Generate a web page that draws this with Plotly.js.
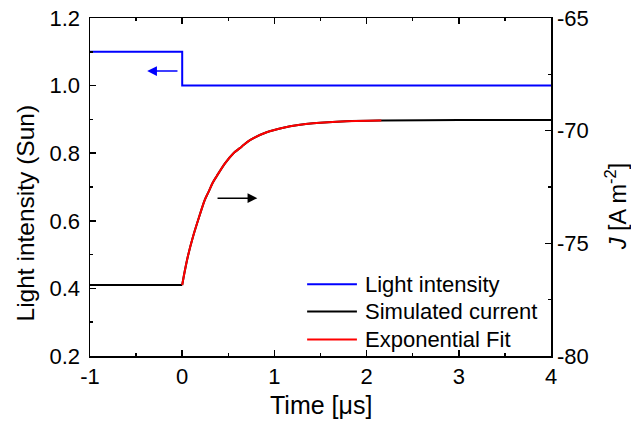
<!DOCTYPE html>
<html><head><meta charset="utf-8">
<script src="https://cdn.plot.ly/plotly-3.0.1.min.js"></script>
<style>html,body{margin:0;padding:0;background:#fff}</style>
</head><body>
<div id="chart" style="width:631px;height:422px"></div>
<script>
// Light intensity (left axis, Sun)
const lightTime = [-1, 0, 0, 4];
const lightValue = [1.1, 1.1, 1.0, 1.0];

// Exponential fit (right axis, A m^-2)
const fitTime = [0, 0.027, 0.063, 0.117, 0.171, 0.244, 0.283, 0.334, 0.374, 0.464, 0.554, 0.645, 0.735, 0.916, 1.097, 1.259, 1.42, 1.78, 2.16];
const fitJ = [-76.85, -76.25, -75.55, -74.71, -73.99, -73.08, -72.74, -72.29, -72.02, -71.45, -71.01, -70.71, -70.42, -70.07, -69.87, -69.75, -69.67, -69.58, -69.55];

// Simulated current (right axis): flat part before the step, then the transient
const simTime = [-1, 0, null, 0, 0.027, 0.063, 0.117, 0.171, 0.244, 0.283, 0.334, 0.374, 0.464, 0.554, 0.645, 0.735, 0.916, 1.097, 1.259, 1.42, 1.78, 2.16, 3.0, 4.0];
const simJ = [-76.85, -76.85, null, -76.85, -76.25, -75.55, -74.71, -73.99, -73.08, -72.74, -72.29, -72.02, -71.45, -71.01, -70.71, -70.42, -70.07, -69.87, -69.75, -69.67, -69.58, -69.55, -69.53, -69.53];

// Axis tick labels
const xTickVals = [-1, 0, 1, 2, 3, 4];
const xTickText = ["-1", "0", "1", "2", "3", "4"];
const yTickVals = [0.2, 0.4, 0.6, 0.8, 1.0, 1.2];
const yTickText = ["0.2", "0.4", "0.6", "0.8", "1.0", "1.2"];
const y2TickVals = [-80, -75, -70, -65];
const y2TickText = ["-80", "-75", "-70", "-65"];

// Legend entries
const legendNames = ["Light intensity", "Simulated current", "Exponential Fit"];
const legendColors = ["#0000ff", "#000000", "#ff0000"];

// Arrows indicating axes: [tailX, headX, y]
const leftArrow = [-0.035, -0.38, 1.043];
const rightArrow = [0.367, 0.815, 0.667];

const FONT = "Liberation Sans, Arial, sans-serif";

const traces = [
  {x: lightTime, y: lightValue, name: legendNames[0], mode: "lines",
   line: {color: legendColors[0], width: 2}, yaxis: "y"},
  {x: simTime, y: simJ, name: legendNames[1], mode: "lines", connectgaps: false,
   line: {color: legendColors[1], width: 2, shape: "spline", smoothing: 0.8}, yaxis: "y2"},
  {x: fitTime, y: fitJ, name: legendNames[2], mode: "lines",
   line: {color: legendColors[2], width: 2, shape: "spline", smoothing: 0.8}, yaxis: "y2"}
];

const axisCommon = {
  showgrid: false, zeroline: false, showline: true, linecolor: "#000", linewidth: 1.5,
  ticks: "inside", ticklen: 6, tickwidth: 1.5, tickcolor: "#000", ticklabelstandoff: 4,
  tickfont: {family: FONT, size: 22, color: "#000"}
};

// manual legend placement (paper coordinates)
const legLineX0 = 0.471, legLineX1 = 0.579, legTextX = 0.592;
const legRowY = [0.212, 0.132, 0.049];

const annotations = [
  {x: leftArrow[1], y: leftArrow[2], ax: leftArrow[0], ay: leftArrow[2],
   xref: "x", yref: "y", axref: "x", ayref: "y", text: "", showarrow: true,
   arrowhead: 2, arrowsize: 1.3, arrowwidth: 1.5, arrowcolor: "#0000ff"},
  {x: rightArrow[1], y: rightArrow[2], ax: rightArrow[0], ay: rightArrow[2],
   xref: "x", yref: "y", axref: "x", ayref: "y", text: "", showarrow: true,
   arrowhead: 2, arrowsize: 1.3, arrowwidth: 1.5, arrowcolor: "#000000"},
  {text: "Light intensity (Sun)", textangle: -90, showarrow: false,
   xref: "paper", yref: "paper", x: -0.14, y: 0.423, xanchor: "center", yanchor: "middle",
   font: {family: FONT, size: 24.5, color: "#000"}},
  {text: "<i>J</i> [A m<sup>-2</sup>]", textangle: -90, showarrow: false,
   xref: "paper", yref: "paper", x: 1.141, y: 0.44, xanchor: "center", yanchor: "middle",
   font: {family: FONT, size: 23.5, color: "#000"}},
  {text: "Time [\u03bcs]", showarrow: false,
   xref: "paper", yref: "paper", x: 0.5, y: -0.145, xanchor: "center", yanchor: "middle",
   font: {family: FONT, size: 25, color: "#000"}}
];
const shapes = [];
legendNames.forEach((n, i) => {
  annotations.push({text: n, showarrow: false, xref: "paper", yref: "paper",
    x: legTextX, y: legRowY[i], xanchor: "left", yanchor: "middle",
    font: {family: FONT, size: 22, color: "#000"}});
  shapes.push({type: "line", xref: "paper", yref: "paper",
    x0: legLineX0, x1: legLineX1, y0: legRowY[i], y1: legRowY[i],
    line: {color: legendColors[i], width: 2}});
});

const layout = {
  width: 631, height: 422,
  margin: {l: 90, r: 80, t: 18, b: 66},
  paper_bgcolor: "#fff", plot_bgcolor: "#fff",
  font: {family: FONT, color: "#000"},
  showlegend: false,
  xaxis: Object.assign({}, axisCommon, {
    range: [-1, 4], tickvals: xTickVals, ticktext: xTickText, mirror: "ticks",
    ticklabelstandoff: 0,
    minor: {dtick: 0.5, ticks: "inside", ticklen: 3, tickwidth: 1.5, tickcolor: "#000"}
  }),
  yaxis: Object.assign({}, axisCommon, {
    range: [0.2, 1.2], tickvals: yTickVals, ticktext: yTickText,
    minor: {dtick: 0.1, ticks: "inside", ticklen: 3, tickwidth: 1.5, tickcolor: "#000"}
  }),
  yaxis2: Object.assign({}, axisCommon, {
    overlaying: "y", side: "right", range: [-80, -65],
    tickvals: y2TickVals, ticktext: y2TickText, ticklabelstandoff: 0,
    minor: {dtick: 2.5, ticks: "inside", ticklen: 3, tickwidth: 1.5, tickcolor: "#000"}
  }),
  annotations: annotations,
  shapes: shapes
};

Plotly.newPlot("chart", traces, layout, {displayModeBar: false, staticPlot: true});
</script>
</body></html>
